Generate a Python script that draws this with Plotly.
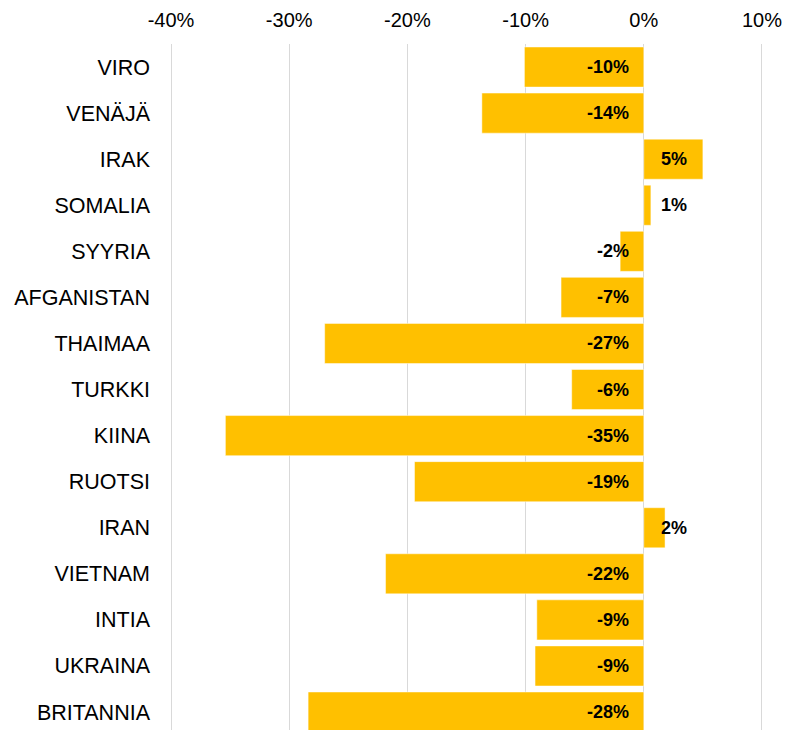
import plotly.graph_objects as go

categories = ["VIRO", "VENÄJÄ", "IRAK", "SOMALIA", "SYYRIA", "AFGANISTAN", "THAIMAA",
              "TURKKI", "KIINA", "RUOTSI", "IRAN", "VIETNAM", "INTIA", "UKRAINA", "BRITANNIA"]
values = [-10.1, -13.7, 5.0, 0.6, -2.0, -7.0, -27.0, -6.1, -35.4, -19.4, 1.8, -21.85, -9.05, -9.2, -28.4]
tick_vals = [-40, -30, -20, -10, 0, 10]
tick_text = ["-40%", "-30%", "-20%", "-10%", "0%", "10%"]

BAR = "#FFC000"
FONT = "Liberation Sans, Arial, sans-serif"

fig = go.Figure()
fig.add_trace(go.Bar(
    x=values, y=categories, orientation="h",
    marker=dict(color=BAR, line=dict(color="rgba(255,255,255,0.6)", width=0.8)),
    hoverinfo="skip",
))

annotations = []
for c, v in zip(categories, values):
    lab = f"{round(v):d}%"
    if v < 0:
        annotations.append(dict(x=0, y=c, xref="x", yref="y", text=f"<b>{lab}</b>",
                                showarrow=False, xanchor="right", xshift=-13,
                                font=dict(family=FONT, size=18, color="black")))
    else:
        annotations.append(dict(x=0, y=c, xref="x", yref="y", text=f"<b>{lab}</b>",
                                showarrow=False, xanchor="left", xshift=15,
                                font=dict(family=FONT, size=18, color="black")))

fig.update_layout(
    width=790, height=722,
    margin=dict(l=159, r=32, t=36, b=0),
    paper_bgcolor="white", plot_bgcolor="white",
    showlegend=False,
    bargap=0.13,
    annotations=annotations,
    xaxis=dict(
        side="top", range=[-40.34, 10.34], tickvals=tick_vals, ticktext=tick_text,
        showgrid=True, gridcolor="#D9D9D9", gridwidth=1.3, zeroline=False,
        showline=False, ticks="", ticklabelstandoff=12, automargin=False,
        tickfont=dict(family=FONT, size=20, color="black"),
        fixedrange=True,
    ),
    yaxis=dict(
        categoryorder="array", categoryarray=categories,
        range=[14.39, -0.5], showgrid=False, zeroline=False, showline=False,
        ticks="", ticklabelstandoff=16, automargin=False,
        tickfont=dict(family=FONT, size=21.5, color="black"),
        fixedrange=True,
    ),
)

fig.write_html("out.html")
